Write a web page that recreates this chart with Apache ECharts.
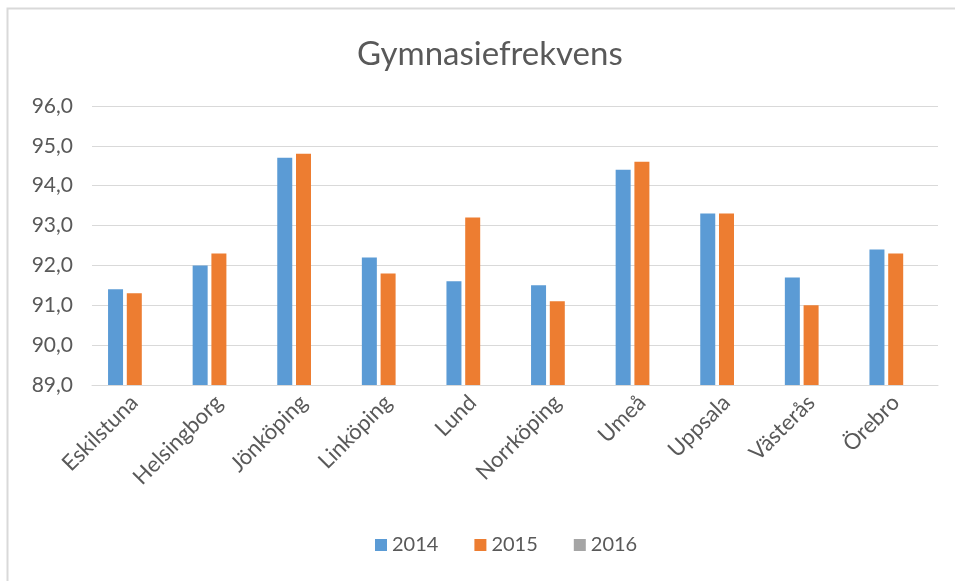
<!DOCTYPE html>
<html>
<head>
<meta charset="utf-8">
<script src="https://cdn.jsdelivr.net/npm/echarts@6/dist/echarts.min.js"></script>
<style>
  html, body { margin: 0; padding: 0; background: #fff; }
  #chart { width: 955px; height: 581px; }
</style>
</head>
<body>
<div id="chart"></div>
<script>
const cities = ['Eskilstuna', 'Helsingborg', 'Jönköping', 'Linköping', 'Lund', 'Norrköping', 'Umeå', 'Uppsala', 'Västerås', 'Örebro'];
const values2014 = [91.4, 92.0, 94.7, 92.2, 91.6, 91.5, 94.4, 93.3, 91.7, 92.4];
const values2015 = [91.3, 92.3, 94.8, 91.8, 93.2, 91.1, 94.6, 93.3, 91.0, 92.3];
const values2016 = [null, null, null, null, null, null, null, null, null, null];

const font = 'Lato, "Open Sans", sans-serif';
const textColor = '#595959';

const chart = echarts.init(document.getElementById('chart'), null, { renderer: 'canvas' });

const option = {
  backgroundColor: '#fff',
  animation: false,
  title: {
    text: 'Gymnasiefrekvens',
    left: 352,
    top: 33,
    textStyle: { fontFamily: font, fontSize: 33, fontWeight: 'normal', color: textColor }
  },
  legend: {
    data: ['2014', '2015', '2016'],
    bottom: 21,
    left: 370,
    itemWidth: 12,
    itemHeight: 12,
    itemGap: 36,
    icon: 'rect',
    textStyle: { fontFamily: font, fontSize: 20, color: textColor }
  },
  grid: { left: 92, right: 17, top: 106, bottom: 196 },
  xAxis: {
    type: 'category',
    data: cities,
    axisLine: { lineStyle: { color: '#d9d9d9', width: 1 } },
    axisTick: { show: false },
    axisLabel: { rotate: 45, fontFamily: font, fontSize: 22, color: textColor, margin: 14 }
  },
  yAxis: {
    type: 'value',
    min: 89,
    max: 96,
    interval: 1,
    axisLine: { show: false },
    axisTick: { show: false },
    splitLine: { lineStyle: { color: '#d9d9d9', width: 1 } },
    axisLabel: {
      fontFamily: font, fontSize: 21, color: textColor, margin: 19,
      formatter: v => v.toFixed(1).replace('.', ',')
    }
  },
  series: [
    { name: '2014', type: 'bar', data: values2014, barWidth: 15, barGap: '25%', itemStyle: { color: '#5b9bd5' } },
    { name: '2015', type: 'bar', data: values2015, barWidth: 15, barGap: '25%', itemStyle: { color: '#ed7d31' } },
    { name: '2016', type: 'bar', data: values2016, barWidth: 15, barGap: '25%', itemStyle: { color: '#a5a5a5' } }
  ],
  graphic: [{
    type: 'rect',
    shape: { x: 7.5, y: 8.5, width: 1000, height: 1000 },
    style: { fill: 'none', stroke: '#d9d9d9', lineWidth: 2 },
    silent: true
  }]
};

chart.setOption(option);
</script>
</body>
</html>
